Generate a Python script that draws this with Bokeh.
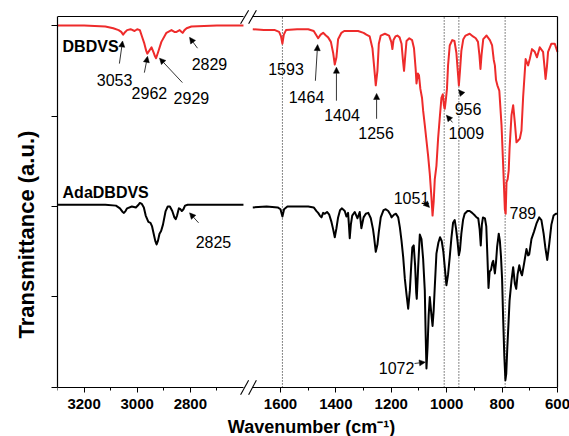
from bokeh.plotting import figure
from bokeh.models import (Range1d, FixedTicker, LinearAxis, Arrow, NormalHead, Label, Title)
from bokeh.embed import file_html
from bokeh.resources import INLINE
from bokeh.core.properties import value

FONT = "Liberation Sans"
RED = "#EE2B2B"

# ---------------- data: high-wavenumber window (3300-2600 cm-1) ----------------
dbdvs_hi_wn = [3300, 3200, 3120, 3090, 3070, 3060, 3053, 3045, 3038, 3025, 3010, 3000, 2990,
               2982, 2973, 2966, 2962, 2955, 2946, 2938, 2933, 2929, 2922, 2909, 2890,
               2871, 2860, 2852, 2840, 2833, 2829, 2822, 2814, 2796, 2700, 2600]
dbdvs_hi_t = [4.00, 4.00, 3.99, 3.97, 3.95, 3.93, 3.90, 3.93, 3.95, 3.96, 3.94, 3.96, 3.95,
              3.88, 3.80, 3.72, 3.69, 3.72, 3.76, 3.70, 3.66, 3.64, 3.70, 3.82, 3.92,
              3.95, 3.93, 3.93, 3.95, 3.93, 3.92, 3.95, 3.97, 3.99, 4.00, 4.00]

ada_hi_wn = [3300, 3120, 3080, 3065, 3055, 3050, 3044, 3038, 3020, 3005, 2995, 2990, 2983,
             2975, 2968, 2958, 2950, 2944, 2938, 2932, 2927, 2922, 2916, 2910, 2903,
             2893, 2885, 2877, 2868, 2860, 2855, 2850, 2843, 2837, 2832, 2826, 2820,
             2810, 2800, 2700, 2600]
ada_hi_t = [2.02, 2.02, 2.01, 1.98, 1.94, 1.93, 1.95, 1.98, 2.00, 1.99, 2.02, 2.04, 2.03,
            1.99, 1.90, 1.83, 1.82, 1.78, 1.70, 1.62, 1.58, 1.62, 1.70, 1.73, 1.80,
            1.95, 2.00, 2.00, 1.95, 1.88, 1.86, 1.90, 1.98, 1.97, 1.95, 1.97, 2.01,
            2.02, 2.02, 2.02, 2.02]

# ---------------- data: fingerprint window (1700-600 cm-1) ----------------
dbdvs_lo_wn = [1700, 1660, 1620, 1605, 1598, 1593, 1588, 1580, 1540, 1500, 1480, 1470, 1464,
               1455, 1446, 1436, 1428, 1418, 1410, 1404, 1398, 1392, 1380, 1370, 1320,
               1300, 1290, 1278, 1268, 1262, 1256, 1250, 1245, 1238, 1223, 1208, 1200,
               1196, 1192, 1185, 1178, 1170, 1163, 1158, 1154, 1150, 1145, 1135, 1125,
               1118, 1112, 1109, 1104, 1100, 1095, 1089, 1085, 1079, 1073, 1067, 1061,
               1055, 1051, 1047, 1043, 1037, 1031, 1025, 1019, 1014, 1010, 1007, 1003,
               999, 995, 989, 980, 972, 965, 960, 956, 952, 947, 940, 932, 917, 905,
               895, 887, 882, 878, 874, 868, 856, 844, 836, 830, 826, 822, 817, 810,
               802, 796, 790, 787, 784, 780, 776, 773, 766, 760, 754, 748, 742, 736,
               730, 724, 715, 706, 700, 692, 682, 674, 664, 652, 647, 643, 638, 634,
               622, 610, 600]
dbdvs_lo_t = [3.96, 3.95, 3.95, 3.93, 3.88, 3.80, 3.90, 3.95, 3.96, 3.96, 3.94, 3.89, 3.86,
              3.90, 3.92, 3.89, 3.87, 3.82, 3.70, 3.57, 3.65, 3.85, 3.92, 3.94, 3.94,
              3.92, 3.90, 3.88, 3.75, 3.55, 3.34, 3.50, 3.80, 3.89, 3.91, 3.89, 3.82,
              3.74, 3.84, 3.88, 3.89, 3.87, 3.80, 3.62, 3.50, 3.65, 3.83, 3.86, 3.84,
              3.75, 3.52, 3.36, 3.47, 3.45, 3.30, 3.20, 3.06, 2.90, 2.73, 2.56, 2.36,
              2.10, 1.90, 2.05, 2.30, 2.45, 2.75, 2.98, 3.20, 3.24, 3.12, 3.08, 3.18,
              3.30, 3.56, 3.78, 3.84, 3.83, 3.70, 3.50, 3.34, 3.50, 3.72, 3.85, 3.89, 3.91, 3.88,
              3.86, 3.82, 3.68, 3.52, 3.68, 3.85, 3.89, 3.84, 3.78, 3.62, 3.56, 3.40, 3.34, 3.28,
              2.90, 2.45, 1.97, 1.92, 2.27, 2.30, 2.40, 2.64, 3.01, 3.12, 2.93, 2.71, 2.73, 2.75,
              2.84, 3.21, 3.63, 3.56, 3.63, 3.74, 3.71, 3.65, 3.76, 3.71, 3.55, 3.41, 3.55, 3.71,
              3.80, 3.80, 3.71]

ada_lo_wn = [1700, 1650, 1610, 1600, 1593, 1587, 1575, 1540, 1500, 1480, 1470, 1464, 1458,
             1452, 1446, 1440, 1432, 1424, 1416, 1410, 1404, 1398, 1392, 1385, 1378,
             1368, 1362, 1356, 1353, 1350, 1346, 1341, 1332, 1322, 1314, 1308, 1300,
             1292, 1283, 1274, 1266, 1262, 1256, 1250, 1245, 1238, 1228, 1220, 1211,
             1203, 1199, 1190, 1183, 1175, 1169, 1163, 1157, 1151, 1145, 1139, 1133,
             1128, 1124, 1119, 1114, 1110, 1108, 1103, 1097, 1091, 1085, 1079, 1076,
             1073, 1069, 1065, 1061, 1058, 1055, 1051, 1047, 1043, 1037, 1030, 1024,
             1018, 1012, 1006, 1001, 995, 989, 983, 977, 971, 966, 961, 956, 952, 947,
             941, 935, 925, 917, 908, 898, 892, 886, 881, 877, 873, 869, 862, 857, 853,
             849, 845, 840, 835, 832, 829, 826, 822, 818, 812, 808, 804, 800, 796, 792,
             788, 785, 781, 777, 773, 766, 760, 754, 749, 744, 738, 732, 728, 720, 712,
             706, 702, 694, 685, 676, 666, 658, 650, 644, 637, 630, 622, 614, 606, 600]
ada_lo_t = [1.99, 2.00, 1.99, 1.97, 1.89, 1.97, 2.00, 2.00, 2.00, 1.99, 1.95, 1.93, 1.90,
            1.88, 1.93, 1.92, 1.94, 1.91, 1.83, 1.75, 1.66, 1.76, 1.88, 1.96, 1.98,
            1.95, 1.89, 1.93, 1.80, 1.65, 1.80, 1.90, 1.94, 1.87, 1.94, 1.76, 1.88,
            1.92, 1.93, 1.87, 1.75, 1.66, 1.50, 1.58, 1.72, 1.88, 1.96, 1.97, 1.95,
            1.91, 1.88, 1.91, 1.92, 1.88, 1.77, 1.62, 1.44, 1.20, 1.03, 0.87, 1.07,
            1.35, 1.55, 1.57, 1.35, 1.05, 0.98, 1.33, 1.69, 1.64, 1.42, 1.07, 0.60,
            0.21, 0.45, 0.80, 1.00, 0.90, 0.80, 0.68, 0.85, 1.11, 1.48, 1.60, 1.66,
            1.62, 1.50, 1.30, 1.13, 1.25, 1.44, 1.65, 1.82, 1.85, 1.75, 1.62, 1.46, 1.52, 1.70,
            1.85, 1.92, 1.95, 1.95, 1.93, 1.90, 1.88, 1.87, 1.75, 1.57, 1.80, 1.88, 1.87, 1.78, 1.45,
            1.10, 1.28, 1.30, 1.38, 1.40, 1.33, 1.26, 1.38, 1.55, 1.70, 1.62, 1.45, 1.20, 0.75, 0.35,
            0.08, 0.15, 0.45, 0.70, 0.96, 1.18, 1.33, 1.15, 1.09, 1.25, 1.35, 1.27, 1.24, 1.38, 1.53,
            1.46, 1.47, 1.64, 1.72, 1.81, 1.88, 1.85, 1.70, 1.55, 1.41, 1.58, 1.80, 1.90, 1.92, 1.92]

# axis windows (broken x axis) and ticks
hi_window = (3300, 2600)
lo_window = (1700, 600)
hi_major = [3200, 3000, 2800]
hi_minor = [3300, 3100, 2900, 2700]
lo_major = [1600, 1400, 1200, 1000, 800, 600]
lo_minor = [1500, 1300, 1100, 900, 700]
y_bounds = (0, 4.1)
y_ticks = [0, 1, 2, 3, 4]
marker_lines = [1593, 1009, 956, 789]

# peak annotations: text, text x, text y, arrow tail (x, y) -> head (x, y)
hi_lab_text = ["3053", "2962", "2929", "2829", "2825"]
hi_lab_x = [3085, 2954, 2796, 2728, 2713]
hi_lab_y = [3.40, 3.25, 3.20, 3.58, 1.61]
hi_arr = [(3067, 3.58, 3055, 3.83), (2973, 3.48, 2961, 3.66), (2830, 3.37, 2916, 3.64),
          (2773, 3.75, 2803, 3.87), (2769, 1.82, 2803, 1.93)]

lo_lab_text = ["1593", "1464", "1404", "1256", "956", "1009", "1051", "789", "1072"]
lo_lab_x = [1580, 1506, 1378, 1255, 923, 929, 1127, 725, 1181]
lo_lab_y = [3.52, 3.21, 3.01, 2.81, 3.08, 2.81, 2.09, 1.93, 0.22]
lo_arr = [(1474, 3.39, 1466, 3.79), (1398, 3.17, 1398, 3.54), (1253, 2.97, 1253, 3.25),
          (943, 3.24, 957, 3.29), (979, 2.93, 1001, 3.01), (1084, 2.06, 1062, 1.99),
          (1116, 0.265, 1077, 0.28)]

series_names = ["DBDVS", "AdaDBDVS"]
series_name_x = [3281, 3281]
series_name_y = [3.77, 2.15]

# "//" axis-break marks at top and bottom (fingerprint-window coordinates)
brk_x0 = [1744, 1715, 1744, 1715]
brk_y0 = [4.02, 4.02, -0.08, -0.08]
brk_x1 = [1715, 1687, 1715, 1687]
brk_y1 = [4.17, 4.17, 0.08, 0.08]

p = figure(frame_width=513, frame_height=429, min_border_left=56, min_border_right=0,
           min_border_top=7, min_border_bottom=0,
           x_range=Range1d(2405, 553), y_range=Range1d(-0.542, 4.2),
           x_axis_location=None, y_axis_location=None, title=None,
           output_backend="svg", toolbar_location=None, outline_line_color=None,
           background_fill_color="white", border_fill_color="white")
p.extra_x_ranges = {"hi": Range1d(3300, 1369)}
p.grid.visible = False


def x_axis(range_name, bounds, ticks, minor):
    kw = dict(fixed_location=0, bounds=bounds, ticker=FixedTicker(ticks=ticks, minor_ticks=minor),
              axis_line_width=1.2, axis_line_color="black",
              major_tick_out=5, major_tick_in=0, minor_tick_out=3, minor_tick_in=0,
              major_tick_line_color="black", minor_tick_line_color="black",
              major_label_text_font=FONT, major_label_text_font_style="bold",
              major_label_text_font_size="15px", major_label_text_color="black",
              major_label_standoff=7)
    if range_name:
        kw["x_range_name"] = range_name
    return LinearAxis(**kw)


def border(range_name=None, **kw):
    ax = LinearAxis(ticker=FixedTicker(ticks=[], minor_ticks=[]), major_tick_out=0, major_tick_in=0,
                    minor_tick_out=0, minor_tick_in=0, major_label_text_font_size="0px",
                    major_label_text_color=None, major_label_standoff=0, axis_label_standoff=0,
                    axis_line_width=1.2, axis_line_color="black", **kw)
    if range_name:
        ax.x_range_name = range_name
    return ax


p.add_layout(x_axis("hi", hi_window, hi_major, hi_minor), "below")
p.add_layout(x_axis(None, lo_window, lo_major, lo_minor), "below")
p.add_layout(border("hi", fixed_location=y_bounds[1], bounds=hi_window), "above")
p.add_layout(border(None, fixed_location=y_bounds[1], bounds=lo_window), "above")
p.add_layout(border(None, fixed_location=lo_window[1], bounds=y_bounds), "right")

ya = LinearAxis(bounds=y_bounds, ticker=FixedTicker(ticks=y_ticks, minor_ticks=[]),
                axis_line_width=1.2, axis_line_color="black", major_tick_line_color="black",
                major_tick_out=6, major_tick_in=0, minor_tick_out=0, minor_tick_in=0,
                major_label_text_font_size="0px", major_label_text_color=None,
                major_label_standoff=0, axis_label_standoff=0)
p.add_layout(ya, "left")
p.add_layout(Title(text="Transmittance (a.u.)", align="left", vertical_align="middle", offset=98,
                   standoff=24, text_font=FONT, text_font_style="bold", text_font_size="22px",
                   text_color="black"), "left")

# dotted guide lines
p.segment(x0=marker_lines, y0=[y_bounds[0]] * len(marker_lines), x1=marker_lines,
          y1=[y_bounds[1]] * len(marker_lines), line_color="#111111", line_width=1, line_dash="1 2")

# spectra
p.line(dbdvs_hi_wn, dbdvs_hi_t, x_range_name="hi", line_color=RED, line_width=2, line_join="round")
p.line(ada_hi_wn, ada_hi_t, x_range_name="hi", line_color="black", line_width=2, line_join="round")
p.line(dbdvs_lo_wn, dbdvs_lo_t, line_color=RED, line_width=2, line_join="round")
p.line(ada_lo_wn, ada_lo_t, line_color="black", line_width=2, line_join="round")

# axis-break marks
p.segment(x0=brk_x0, y0=brk_y0, x1=brk_x1, y1=brk_y1, line_color="black", line_width=1.1)

# annotations
p.text(x=hi_lab_x, y=hi_lab_y, text=hi_lab_text, x_range_name="hi", text_font=value(FONT),
       text_font_size="16px", text_align="center", text_baseline="alphabetic", text_color="black")
p.text(x=series_name_x, y=series_name_y, text=series_names, x_range_name="hi",
       text_font=value(FONT), text_font_style="bold", text_font_size="16px", text_align="left",
       text_baseline="alphabetic", text_color="black")
p.text(x=lo_lab_x, y=lo_lab_y, text=lo_lab_text, text_font=value(FONT),
       text_font_size="16px", text_align="center", text_baseline="alphabetic", text_color="black")


def arrow(xs, ys, xe, ye, range_name=None):
    a = Arrow(end=NormalHead(size=6, fill_color="black", line_color="black", line_width=0.5),
              x_start=xs, y_start=ys, x_end=xe, y_end=ye, line_width=0.8, line_color="black")
    if range_name:
        a.x_range_name = range_name
    return a


for (xs, ys, xe, ye) in hi_arr:
    p.add_layout(arrow(xs, ys, xe, ye, "hi"))
for (xs, ys, xe, ye) in lo_arr:
    p.add_layout(arrow(xs, ys, xe, ye))

# x-axis title (bottom strip of the frame)
p.add_layout(Label(x=254, y=10, x_units="screen", y_units="screen", text="Wavenumber (cm\u207b\u00b9)",
                   text_align="center", text_baseline="alphabetic", text_font=FONT,
                   text_font_style="bold", text_font_size="18px", text_color="black"))

open("out.html", "w").write(file_html(p, INLINE))
